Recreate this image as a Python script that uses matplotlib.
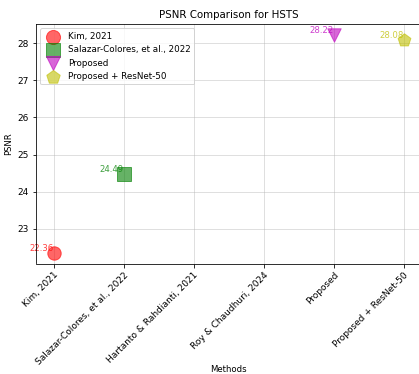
import matplotlib
matplotlib.use("Agg")
import matplotlib.pyplot as plt

methods = ["Kim, 2021", "Salazar-Colores, et al., 2022", "Hartanto & Rahdianti, 2021",
           "Roy & Chaudhuri, 2024", "Proposed", "Proposed + ResNet-50"]
plotted = ["Kim, 2021", "Salazar-Colores, et al., 2022", "Proposed", "Proposed + ResNet-50"]
psnr = [22.36, 24.49, 28.22, 28.08]
labels = ["22.36", "24.49", "28.22", "28.08"]
markers = ["o", "s", "v", "p"]
colors = ["red", "green", "m", "y"]

W, H, DPI = 419, 374, 72
fig = plt.figure(figsize=(W / DPI, H / DPI), dpi=DPI)
left, right, top, bottom = 36, 421.5, 24, 263.5
ax = fig.add_axes([left / W, 1 - bottom / H, (right - left) / W, (bottom - top) / H])

pos = {m: i for i, m in enumerate(methods)}
for name, val, lab, mk, c in zip(plotted, psnr, labels, markers, colors):
    x = pos[name]
    ax.scatter(x, val, marker=mk, s=180, color=c, alpha=0.6, label=name, zorder=3)
    ax.text(x, val, lab, color=c, alpha=0.75, fontsize=8.5, ha="right", va="bottom", zorder=2)

ax.set_xticks(range(len(methods)))
ax.set_xticklabels(methods, rotation=45, ha="right", rotation_mode="anchor", fontsize=9)
ax.tick_params(axis="y", labelsize=9)
ax.set_xlim(-0.25, 5.25)
ax.set_ylim(22.07, 28.513)
ax.set_xlabel("Methods", fontsize=8.5, labelpad=-1)
ax.set_ylabel("PSNR", fontsize=8.5)
ax.set_title("PSNR Comparison for HSTS", fontsize=10.3)
ax.grid(True, alpha=0.5)
ax.set_axisbelow(True)
ax.legend(loc="upper left", fontsize=8.7, markerscale=1.05)

fig.savefig("out.png", dpi=DPI)
